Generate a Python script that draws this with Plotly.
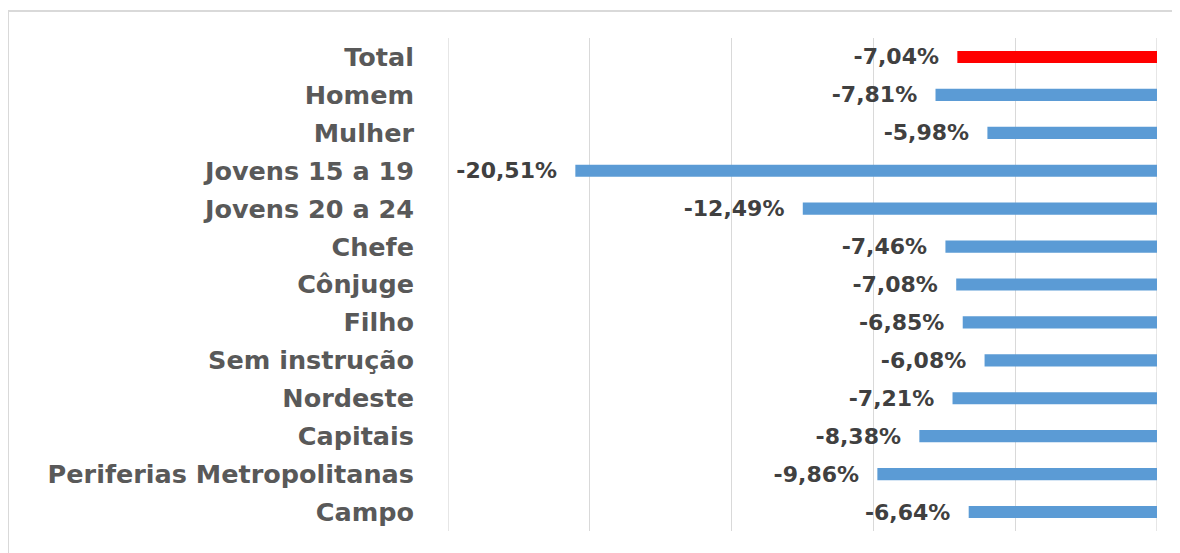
import plotly.graph_objects as go

categories = ["Total", "Homem", "Mulher", "Jovens 15 a 19", "Jovens 20 a 24", "Chefe",
              "Cônjuge", "Filho", "Sem instrução", "Nordeste", "Capitais",
              "Periferias Metropolitanas", "Campo"]
values = [-7.04, -7.81, -5.98, -20.51, -12.49, -7.46, -7.08, -6.85, -6.08, -7.21,
          -8.38, -9.86, -6.64]
bar_colors = ["#ff0000"] + ["#5b9bd5"] * (len(categories) - 1)
x_min, x_max = -25, 0

labels = [f"{v:.2f}%".replace(".", ",") + "\u00a0\u00a0" for v in values]

fig = go.Figure(go.Bar(
    y=categories, x=values, orientation="h",
    marker=dict(color=bar_colors, line=dict(width=0)),
    width=0.32,
    text=labels, textposition="outside", cliponaxis=False, constraintext="none",
    textfont=dict(family="DejaVu Sans", size=22, color="#404040", weight="bold"),
))

# page offset of 8px (body margin)
W, H = 1180, 553
l, t = 440, 30
pw, ph = 709, 493
r, b = W - l - pw, H - t - ph

grid_color = "#d9d9d9"
edge_lines = [dict(type="line", xref="x", yref="paper", x0=xv, x1=xv, y0=0, y1=1,
                   line=dict(color=grid_color, width=1.3), layer="below")
              for xv in (x_min, x_max)]

fig.update_layout(
    width=W, height=H,
    margin=dict(l=l, r=r, t=t, b=b),
    paper_bgcolor="white", plot_bgcolor="white",
    showlegend=False,
    xaxis=dict(range=[x_min, x_max], dtick=5, tick0=0, showgrid=True, gridcolor=grid_color,
               gridwidth=1.3, zeroline=False, showticklabels=False, showline=False),
    yaxis=dict(autorange="reversed", showgrid=False, showline=False,
               ticklabelstandoff=33,
               tickfont=dict(family="DejaVu Sans", size=25.5, color="#595959", weight="bold")),
    shapes=[dict(type="rect", xref="paper", yref="paper",
                 x0=(0 - l) / pw, x1=(W + 5 - l) / pw,
                 y0=-(b + 20) / ph, y1=(ph + t - 3) / ph,
                 line=dict(color=grid_color, width=2), fillcolor="rgba(0,0,0,0)",
                 layer="below")] + edge_lines,
)

fig.write_html("out.html")
